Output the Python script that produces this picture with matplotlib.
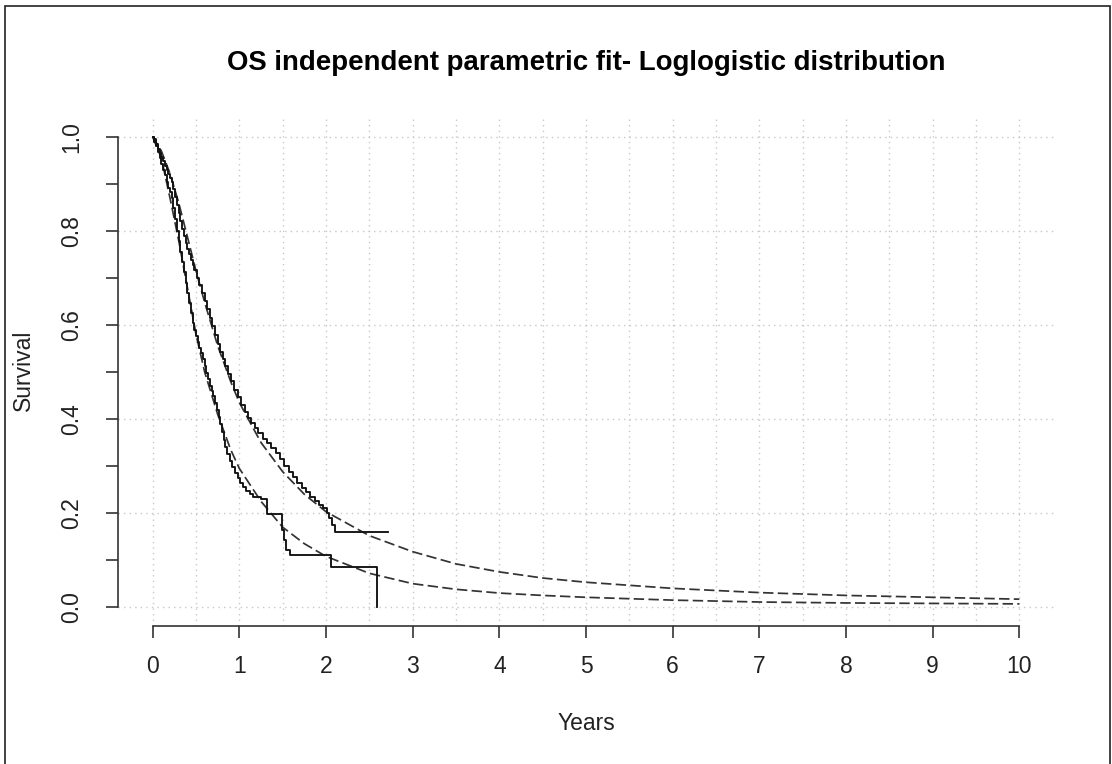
import numpy as np
import matplotlib
matplotlib.use('Agg')
import matplotlib.pyplot as plt
from matplotlib.patches import Rectangle

plt.rcParams['font.family'] = ['Liberation Sans', 'DejaVu Sans']

# Kaplan-Meier estimates (years, survival)
km_a_t = [0, 0.02, 0.04, 0.06, 0.08, 0.10, 0.12, 0.14, 0.16, 0.18, 0.20, 0.22,
          0.24, 0.26, 0.28, 0.30, 0.32, 0.34, 0.36, 0.38, 0.40, 0.42, 0.44,
          0.46, 0.48, 0.51, 0.54, 0.57, 0.60, 0.63, 0.66, 0.69, 0.72, 0.75,
          0.78, 0.81, 0.84, 0.87, 0.90, 0.94, 0.98, 1.02, 1.06, 1.10, 1.14,
          1.18, 1.22, 1.27, 1.32, 1.37, 1.42, 1.47, 1.52, 1.57, 1.62, 1.67,
          1.72, 1.77, 1.82, 1.87, 1.92, 1.97, 2.01, 2.04, 2.07, 2.10, 2.71]
km_a_s = [1.0, 0.995, 0.985, 0.975, 0.966, 0.957, 0.948, 0.938, 0.93, 0.92,
          0.913, 0.905, 0.89, 0.872, 0.855, 0.838, 0.82, 0.805, 0.79, 0.775,
          0.762, 0.75, 0.738, 0.727, 0.716, 0.70, 0.684, 0.668, 0.652, 0.634,
          0.615, 0.598, 0.578, 0.56, 0.543, 0.527, 0.512, 0.496, 0.48, 0.462,
          0.446, 0.43, 0.416, 0.403, 0.392, 0.38, 0.37, 0.358, 0.348, 0.338,
          0.327, 0.314, 0.3, 0.287, 0.276, 0.265, 0.254, 0.244, 0.235, 0.226,
          0.218, 0.21, 0.2, 0.19, 0.175, 0.16, 0.16]

km_b_t = [0, 0.02, 0.04, 0.06, 0.08, 0.10, 0.12, 0.14, 0.16, 0.18, 0.20, 0.22,
          0.24, 0.26, 0.28, 0.30, 0.32, 0.34, 0.36, 0.38, 0.40, 0.42, 0.44,
          0.46, 0.48, 0.50, 0.52, 0.54, 0.56, 0.58, 0.60, 0.62, 0.64, 0.66,
          0.68, 0.70, 0.72, 0.74, 0.76, 0.78, 0.80, 0.82, 0.84, 0.86, 0.89,
          0.92, 0.95, 0.98, 1.01, 1.04, 1.08, 1.12, 1.16, 1.25, 1.32, 1.49,
          1.52, 1.54, 1.58, 2.06, 2.59]
km_b_s = [1.0, 0.99, 0.98, 0.968, 0.955, 0.942, 0.93, 0.918, 0.905, 0.892,
          0.882, 0.87, 0.848, 0.825, 0.80, 0.778, 0.756, 0.734, 0.712, 0.69,
          0.668, 0.647, 0.625, 0.604, 0.59, 0.577, 0.564, 0.552, 0.54, 0.527,
          0.512, 0.498, 0.485, 0.47, 0.46, 0.45, 0.435, 0.42, 0.405, 0.39,
          0.373, 0.356, 0.34, 0.326, 0.31, 0.297, 0.285, 0.275, 0.265, 0.256,
          0.248, 0.24, 0.234, 0.231, 0.199, 0.164, 0.143, 0.121, 0.111, 0.086,
          0.0]

# Loglogistic fitted survival
fit_t = [0, 0.1, 0.2, 0.3, 0.4, 0.5, 0.6, 0.75, 0.9, 1.0, 1.25, 1.5, 1.75, 2.0,
         2.5, 3.0, 3.5, 4.0, 4.5, 5.0, 6.0, 7.0, 8.0, 9.0, 10.0]
fit_a_s = [1.0, 0.97, 0.922, 0.86, 0.788, 0.715, 0.648, 0.556, 0.48, 0.435, 0.35,
           0.288, 0.24, 0.203, 0.152, 0.118, 0.092, 0.075, 0.062, 0.053, 0.040,
           0.031, 0.025, 0.021, 0.017]
fit_b_s = [1.0, 0.955, 0.87, 0.78, 0.68, 0.58, 0.50, 0.41, 0.335, 0.295, 0.225,
           0.17, 0.135, 0.108, 0.072, 0.050, 0.038, 0.030, 0.025, 0.021, 0.015,
           0.011, 0.009, 0.008, 0.007]

x_ticks = list(range(11))
y_ticks = [round(0.1 * i, 1) for i in range(11)]
y_labels = ['0.0', '', '0.2', '', '0.4', '', '0.6', '', '0.8', '', '1.0']

W, H = 1112, 764
fig = plt.figure(figsize=(W / 100, H / 100), dpi=100)
ax = fig.add_axes([118 / W, 1 - 626 / H, 936 / W, 508 / H])
ax.set_xlim(-0.4, 10.4)
ax.set_ylim(-0.04, 1.04)

# dotted grid over the whole plot region
for gx in np.arange(0, 10.01, 0.5):
    ax.axvline(gx, color='#c8c8c8', lw=1.0, ls=(0, (1, 3)), zorder=1)
for gy in np.arange(0, 1.01, 0.2):
    ax.axhline(gy, color='#c8c8c8', lw=1.0, ls=(0, (1, 3)), zorder=1)

ax.plot(km_a_t, km_a_s, drawstyle='steps-post', color='#111111', lw=1.35, zorder=3)
ax.plot(km_b_t, km_b_s, drawstyle='steps-post', color='#111111', lw=1.35, zorder=3)
ax.plot(fit_t, fit_a_s, color='#333333', lw=1.25, dashes=(6, 2.5), zorder=2)
ax.plot(fit_t, fit_b_s, color='#333333', lw=1.25, dashes=(6, 2.5), zorder=2)

for side in ['top', 'right']:
    ax.spines[side].set_visible(False)
ax.spines['left'].set_bounds(0, 1)
ax.spines['bottom'].set_bounds(0, 10)
for side in ['left', 'bottom']:
    ax.spines[side].set_color('#333333')
    ax.spines[side].set_linewidth(1.2)

ax.set_xticks(x_ticks)
ax.set_xticklabels([str(v) for v in x_ticks])
ax.set_yticks(y_ticks)
ax.set_yticklabels(y_labels, rotation=90, va='center')
ax.tick_params(axis='x', length=8.6, width=1.2, color='#333333', pad=12,
               labelsize=16.5, labelcolor='#222222')
ax.tick_params(axis='y', length=9, width=1.2, color='#333333', pad=16,
               labelsize=16.5, labelcolor='#222222')

fig.text(586 / W, 1 - 63 / H, 'OS independent parametric fit- Loglogistic distribution',
         ha='center', va='center', fontsize=19.9, fontweight='bold')
fig.text(586 / W, 1 - 723 / H, 'Years', ha='center', va='center', fontsize=16.5,
         color='#222222')
fig.text(23 / W, 1 - 370 / H, 'Survival', ha='center', va='center', fontsize=16.5,
         rotation=90, color='#222222')

# outer frame
fig.patches.append(Rectangle((5 / W, -0.01), 1105 / W, 1.01 - 6 / H,
                             transform=fig.transFigure, fill=False,
                             edgecolor='#222222', lw=1.2))

fig.savefig('out.png', dpi=100)
